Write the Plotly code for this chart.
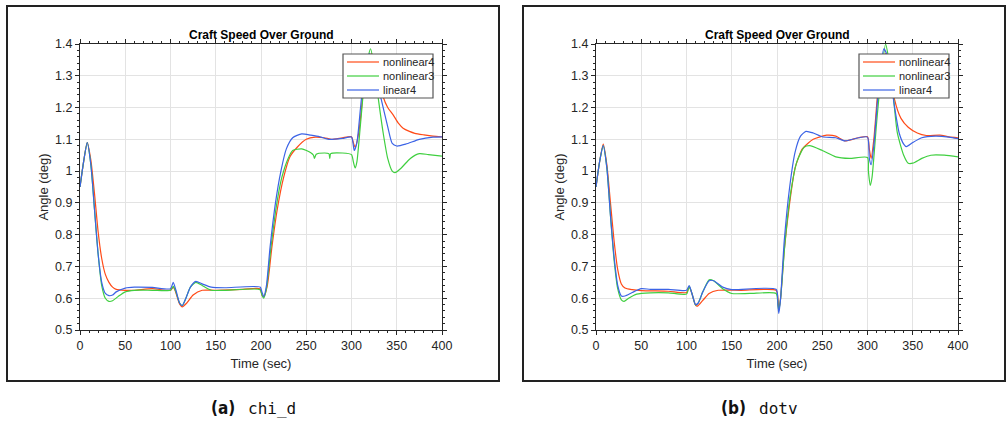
import plotly.graph_objects as go

# ---- (a) chi_d ----
a_red_t = [0, 4, 8, 12, 16, 20, 24, 28, 32, 36, 40, 50, 60, 80, 100, 103, 105, 110, 113, 118, 125, 135, 150, 180, 199, 201, 203, 207, 212, 218, 225, 232, 240, 250, 260, 270, 278, 290, 300, 302, 304, 308, 313, 318, 322, 326, 330, 335, 340, 346, 352, 357, 364, 370, 380, 390, 400]
a_red_v = [0.95, 1.03, 1.09, 1.035, 0.93, 0.81, 0.725, 0.675, 0.65, 0.635, 0.628, 0.625, 0.625, 0.63, 0.625, 0.635, 0.625, 0.582, 0.573, 0.585, 0.61, 0.625, 0.625, 0.628, 0.63, 0.61, 0.605, 0.64, 0.76, 0.88, 0.98, 1.045, 1.075, 1.1, 1.107, 1.105, 1.1, 1.105, 1.108, 1.09, 1.075, 1.12, 1.25, 1.34, 1.37, 1.35, 1.30, 1.234, 1.2, 1.177, 1.15, 1.135, 1.125, 1.119, 1.114, 1.11, 1.108]

a_grn_t = [0, 4, 8, 12, 16, 20, 24, 28, 32, 36, 42, 50, 60, 80, 100, 103, 106, 110, 113, 117, 122, 128, 135, 145, 160, 199, 201, 203, 206, 211, 217, 223, 230, 235, 245, 255, 258, 259, 261, 270, 275, 276, 277, 290, 300, 302, 304, 306, 310, 315, 321, 325, 330, 335, 340, 345, 348, 355, 365, 375, 385, 400]
a_grn_v = [0.95, 1.03, 1.09, 1.02, 0.88, 0.74, 0.64, 0.6, 0.59, 0.592, 0.605, 0.62, 0.625, 0.625, 0.625, 0.637, 0.62, 0.585, 0.577, 0.6, 0.635, 0.65, 0.64, 0.625, 0.625, 0.627, 0.61, 0.6, 0.63, 0.76, 0.89, 0.98, 1.04, 1.065, 1.07, 1.058, 1.05, 1.04, 1.053, 1.057, 1.055, 1.04, 1.055, 1.057, 1.052, 1.03, 1.01, 1.03, 1.15, 1.3, 1.385, 1.33, 1.22, 1.12, 1.04, 1.0, 0.995, 1.01, 1.04, 1.055, 1.052, 1.047]

a_blu_t = [0, 4, 8, 12, 16, 20, 24, 28, 32, 36, 40, 50, 60, 80, 100, 103, 106, 110, 113, 117, 122, 128, 135, 145, 160, 199, 201, 203, 206, 210, 216, 222, 228, 235, 245, 255, 265, 275, 290, 300, 303, 306, 310, 315, 320, 325, 329, 333, 340, 345, 350, 360, 375, 390, 400]
a_blu_v = [0.95, 1.03, 1.09, 1.02, 0.88, 0.74, 0.65, 0.615, 0.608, 0.61, 0.62, 0.632, 0.635, 0.634, 0.63, 0.65, 0.625, 0.585, 0.577, 0.6, 0.635, 0.653, 0.645, 0.635, 0.633, 0.635, 0.62, 0.605, 0.64, 0.76, 0.9, 1.0, 1.07, 1.105, 1.117, 1.113, 1.108, 1.1, 1.103, 1.107, 1.065, 1.09, 1.2, 1.33, 1.37, 1.33, 1.27, 1.224, 1.14, 1.087, 1.079, 1.085, 1.1, 1.107, 1.108]

# ---- (b) dotv ----
b_red_t = [0, 4, 8, 12, 16, 20, 24, 28, 32, 40, 50, 80, 100, 103, 106, 110, 112, 118, 125, 135, 160, 199, 201, 202, 204, 208, 214, 220, 228, 240, 255, 265, 275, 290, 300, 302, 304, 307, 312, 316, 320, 325, 330, 337, 345, 355, 365, 380, 390, 400]
b_red_v = [0.95, 1.03, 1.085, 1.02, 0.9, 0.78, 0.69, 0.645, 0.632, 0.627, 0.624, 0.622, 0.618, 0.635, 0.615, 0.578, 0.575, 0.593, 0.615, 0.625, 0.625, 0.625, 0.6, 0.565, 0.6, 0.75, 0.9, 1.01, 1.07, 1.1, 1.113, 1.11, 1.095, 1.105, 1.108, 1.07, 1.04, 1.1, 1.27, 1.35, 1.37, 1.32, 1.224, 1.166, 1.138, 1.12, 1.112, 1.113, 1.108, 1.105]

b_grn_t = [0, 4, 8, 12, 16, 20, 24, 28, 31, 36, 45, 60, 80, 100, 103, 106, 110, 113, 118, 125, 130, 140, 150, 170, 199, 201, 202, 204, 209, 215, 222, 230, 236, 250, 265, 280, 300, 301, 303, 305, 310, 315, 320, 323, 328, 333, 340, 345, 350, 360, 370, 385, 400]
b_grn_v = [0.95, 1.03, 1.08, 1.01, 0.86, 0.72, 0.63, 0.595, 0.59, 0.6, 0.613, 0.617, 0.617, 0.613, 0.637, 0.615, 0.578, 0.585, 0.62, 0.658, 0.655, 0.63, 0.615, 0.615, 0.615, 0.58, 0.56, 0.6, 0.78, 0.93, 1.03, 1.075, 1.08, 1.065, 1.045, 1.04, 1.043, 1.0, 0.955, 0.98, 1.15, 1.3, 1.4, 1.36, 1.25, 1.12, 1.05, 1.025, 1.025, 1.04, 1.05, 1.05, 1.045]

b_blu_t = [0, 4, 8, 12, 16, 20, 24, 28, 32, 40, 50, 60, 80, 100, 103, 106, 110, 113, 118, 125, 130, 140, 150, 199, 201, 202, 204, 208, 214, 220, 226, 232, 240, 250, 265, 275, 290, 300, 302, 304, 307, 311, 315, 318, 321, 325, 330, 335, 340, 343, 350, 360, 375, 390, 400]
b_blu_v = [0.95, 1.03, 1.08, 1.01, 0.86, 0.73, 0.64, 0.607, 0.607, 0.618, 0.63, 0.628, 0.628, 0.625, 0.64, 0.615, 0.58, 0.585, 0.62, 0.655, 0.655, 0.635, 0.627, 0.628, 0.58, 0.552, 0.6, 0.78, 0.95, 1.06, 1.11, 1.125, 1.12, 1.108, 1.105, 1.095, 1.105, 1.107, 1.04, 1.02, 1.08, 1.22, 1.33, 1.385, 1.37, 1.3, 1.2, 1.12, 1.085, 1.077, 1.09, 1.105, 1.11, 1.107, 1.102]

series_names = ["nonlinear4", "nonlinear3", "linear4"]
series_colors = ["#ff4a17", "#3fcf3f", "#3b63e6"]
x_ticks = [0, 50, 100, 150, 200, 250, 300, 350, 400]
y_ticks = [0.5, 0.6, 0.7, 0.8, 0.9, 1.0, 1.1, 1.2, 1.3, 1.4]
title_text = "Craft Speed Over Ground"
x_title = "Time (sec)"
y_title = "Angle (deg)"
captions = [("(a)", "chi_d"), ("(b)", "dotv")]

W, H = 1006, 428
FONT = "Liberation Sans, Arial, sans-serif"
INK = "#262626"

panels = [
    [(a_red_t, a_red_v), (a_grn_t, a_grn_v), (a_blu_t, a_blu_v)],
    [(b_red_t, b_red_v), (b_grn_t, b_grn_v), (b_blu_t, b_blu_v)],
]
# plot-area pixel boxes (left, right) and shared top/bottom
plot_x = [(80, 442), (596, 958)]
plot_top, plot_bot = 44, 330
frames = [(7, 499), (523, 1005)]
frame_top, frame_bot = 6, 381
# legend box per panel: (left, right, top, bottom) in pixels
legend_box = [(343, 433, 54, 98), (859, 949, 54, 98)]
legend_rows = [62, 76, 90]


def px(x):
    return x / W


def py(y):
    return (H - y) / H


fig = go.Figure()
shapes = []
annotations = []

for i, series in enumerate(panels):
    xa = "x" if i == 0 else "x2"
    ya = "y" if i == 0 else "y2"
    for j, (t, v) in enumerate(series):
        fig.add_trace(go.Scatter(
            x=t, y=v, mode="lines", name=series_names[j],
            line=dict(color=series_colors[j], width=1.2, shape="spline", smoothing=0.6),
            xaxis=xa, yaxis=ya, showlegend=False,
        ))
    x0, x1 = plot_x[i]
    axis_common = dict(
        showline=True, linecolor=INK, linewidth=1, mirror="ticks",
        ticks="outside", ticklen=4, tickwidth=1, tickcolor=INK,
        showgrid=True, gridcolor="#e3e3e3", gridwidth=1, zeroline=False,
        tickfont=dict(family=FONT, size=12.5, color=INK), automargin=False,
    )
    xname = "xaxis" if i == 0 else "xaxis2"
    yname = "yaxis" if i == 0 else "yaxis2"
    fig.update_layout(**{
        xname: dict(
            domain=[px(x0), px(x1)], range=[0, 400], tickvals=x_ticks,
            anchor=ya, minor=dict(dtick=10, ticklen=2, ticks="outside", tickcolor=INK, showgrid=False),
            title=dict(text=x_title, font=dict(family=FONT, size=13, color=INK), standoff=6),
            **axis_common,
        ),
        yname: dict(
            domain=[py(plot_bot), py(plot_top)], range=[0.5, 1.4], tickvals=y_ticks,
            anchor=xa, minor=dict(dtick=0.02, ticklen=2, ticks="outside", tickcolor=INK, showgrid=False),
            title=dict(text=y_title, font=dict(family=FONT, size=13, color=INK), standoff=3),
            **axis_common,
        ),
    })
    # panel title
    annotations.append(dict(
        text="<b>" + title_text + "</b>", xref="paper", yref="paper",
        x=px((x0 + x1) / 2), y=py(35), showarrow=False,
        font=dict(family=FONT, size=12, color="#000"), xanchor="center", yanchor="middle",
    ))
    # framing box
    fx0, fx1 = frames[i]
    shapes.append(dict(type="rect", xref="paper", yref="paper",
                       x0=px(fx0), x1=px(fx1), y0=py(frame_bot), y1=py(frame_top),
                       line=dict(color="#222", width=2)))
    # legend box with line samples
    lx0, lx1, ly0, ly1 = legend_box[i]
    shapes.append(dict(type="rect", xref="paper", yref="paper",
                       x0=px(lx0), x1=px(lx1), y0=py(ly1), y1=py(ly0),
                       line=dict(color="#555", width=1.2), fillcolor="white", layer="above"))
    for j, name in enumerate(series_names):
        ry = legend_rows[j]
        shapes.append(dict(type="line", xref="paper", yref="paper",
                           x0=px(lx0 + 4), x1=px(lx0 + 36), y0=py(ry), y1=py(ry),
                           line=dict(color=series_colors[j], width=1.2), layer="above"))
        annotations.append(dict(
            text=name, xref="paper", yref="paper", x=px(lx0 + 38), y=py(ry),
            xanchor="left", yanchor="middle", showarrow=False,
            font=dict(family=FONT, size=11, color=INK),
        ))
    # caption under the panel
    lab, name = captions[i]
    cx = (fx0 + fx1) / 2
    annotations.append(dict(
        text="<b>" + lab + "</b>", xref="paper", yref="paper",
        x=px(cx - 16), y=py(408), showarrow=False, xanchor="right", yanchor="middle",
        font=dict(family="DejaVu Sans Condensed, DejaVu Sans", size=17, color="#111"),
    ))
    annotations.append(dict(
        text=name, xref="paper", yref="paper",
        x=px(cx - 7), y=py(408), showarrow=False, xanchor="left", yanchor="middle",
        font=dict(family="DejaVu Sans Mono, Liberation Mono, monospace", size=16, color="#111"),
    ))

fig.update_layout(
    width=W, height=H, margin=dict(l=0, r=0, t=0, b=0, autoexpand=False),
    paper_bgcolor="white", plot_bgcolor="white", showlegend=False,
    shapes=shapes, annotations=annotations,
)

fig.write_html("out.html")
